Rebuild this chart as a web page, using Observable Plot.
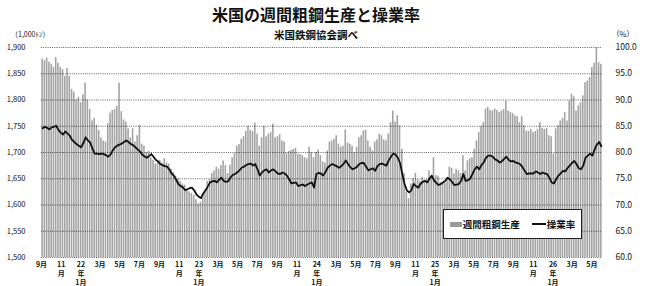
<!DOCTYPE html>
<html><head><meta charset="utf-8">
<script src="https://cdn.jsdelivr.net/npm/d3@7"></script>
<script src="https://cdn.jsdelivr.net/npm/@observablehq/plot@0.6"></script>
<style>
body{margin:0;background:#fff;}
#wrap{position:relative;width:648px;height:286px;font-family:"Noto Sans CJK JP",sans-serif;color:#111;}
#wrap svg{position:absolute;left:0;top:0;}
.t{position:absolute;white-space:nowrap;font-weight:bold;line-height:1;}
#title{left:0;width:632px;text-align:center;top:6px;height:17px;font-size:16px;}
#sub{left:0;width:632px;text-align:center;top:30px;height:11px;font-size:10.5px;}
#unitL{left:11px;top:31px;font-size:7px;font-weight:normal;}
#unitR{left:612px;top:30px;font-size:7.5px;font-weight:normal;}
#legend{position:absolute;left:443px;top:209px;width:139px;height:30px;background:#fff;border:1px solid #222;box-sizing:border-box;display:flex;align-items:center;justify-content:center;font-size:9.5px;font-weight:bold;gap:0;}
.sw{display:inline-block;width:12px;height:5px;background:#999;margin-right:1px;vertical-align:middle;}
.ln{display:inline-block;width:14px;height:2px;background:#111;margin-left:12px;margin-right:1px;vertical-align:middle;}
</style></head>
<body>
<div id="wrap">
<div class="t" id="title">米国の週間粗鋼生産と操業率</div>
<div class="t" id="sub">米国鉄鋼協会調べ</div>
<div class="t" id="unitL">（1,000ﾄﾝ）</div>
<div class="t" id="unitR">（%）</div>
</div>
<script>
// weekly crude steel production (1,000 tons), from week of 2009-09-01
const prod = [
1878,1875,1880,1872,1868,1862,1881,1870,1862,1858,
1845,1860,1845,1820,1815,1800,1805,1795,1810,1832,
1800,1782,1760,1765,1752,1742,1728,1722,1720,1755,
1775,1780,1782,1788,1832,1778,1762,1758,1745,1728,
1745,1720,1732,1752,1716,1712,1700,1702,1690,1685,
1678,1680,1685,1680,1688,1680,1678,1668,1662,1655,
1650,1645,1640,1638,1630,1625,1622,1618,1610,1602,
1605,1620,1628,1645,1648,1660,1665,1672,1668,1675,
1684,1675,1660,1676,1690,1698,1712,1715,1725,1730,
1740,1750,1742,1740,1756,1735,1712,1728,1750,1730,
1735,1738,1754,1728,1730,1734,1722,1720,1698,1702,
1704,1706,1708,1697,1696,1694,1690,1688,1710,1700,
1690,1700,1705,1694,1682,1680,1703,1720,1722,1725,
1732,1716,1710,1712,1743,1718,1716,1712,1700,1710,
1728,1732,1741,1742,1722,1710,1703,1720,1724,1735,
1732,1724,1722,1735,1757,1779,1758,1770,1751,1706,
1660,1625,1612,1640,1650,1660,1648,1645,1652,1646,
1648,1665,1652,1690,1656,1655,1643,1640,1642,1652,
1672,1670,1659,1668,1665,1660,1694,1665,1684,1688,
1690,1706,1722,1738,1750,1757,1783,1786,1780,1779,
1783,1780,1776,1779,1782,1798,1779,1776,1774,1770,
1768,1757,1768,1751,1741,1740,1744,1738,1740,1744,
1757,1746,1744,1746,1732,1730,1697,1745,1751,1760,
1765,1776,1760,1798,1811,1806,1779,1789,1795,1808,
1833,1836,1843,1862,1870,1899,1871,1868
];
// operating rate (%)
const rate = [
84.6,84.9,84.7,84.4,84.8,84.9,85.1,84.3,83.8,83.4,
84.0,83.6,83.2,82.4,82.0,81.6,81.3,81.0,81.8,82.9,
82.3,81.9,80.8,79.8,79.8,79.7,79.8,79.7,79.5,79.2,
79.6,80.4,81.0,81.3,81.5,81.7,82.0,82.3,82.0,81.6,
81.4,81.0,80.6,80.2,79.6,79.3,79.0,79.3,79.7,79.2,
78.6,78.3,77.8,77.6,77.4,77.3,76.8,76.0,75.6,74.8,
74.0,73.6,73.4,72.8,73.0,73.2,73.3,72.8,72.0,71.6,
71.3,72.2,72.8,73.5,74.3,74.5,74.6,74.3,74.8,75.2,
74.6,74.4,74.5,75.2,75.7,75.9,76.2,76.6,77.1,77.3,
77.6,77.8,77.9,77.5,77.8,76.8,75.6,76.2,76.6,76.8,
76.2,76.6,76.8,76.4,76.0,75.9,76.2,76.0,75.6,74.9,
74.1,74.2,74.3,73.6,73.8,73.9,73.6,73.9,74.1,74.3,
73.3,75.9,76.1,76.0,75.6,76.3,77.1,77.5,77.8,77.6,
77.4,77.1,77.4,77.8,78.5,77.8,77.2,76.8,77.0,77.3,
77.8,78.0,78.0,77.3,76.6,76.8,77.0,76.5,77.4,77.8,
77.9,77.7,77.5,78.5,79.2,79.8,79.6,79.0,78.0,75.9,
74.0,72.8,72.4,72.8,74.0,73.6,73.3,74.0,74.4,74.6,
74.3,75.0,75.6,74.7,74.2,73.8,74.0,74.3,74.6,75.2,
74.9,74.4,73.8,73.9,74.0,74.6,75.9,74.6,74.7,75.0,
75.9,76.8,77.3,76.8,77.6,78.1,79.0,79.4,79.4,79.2,
78.7,78.5,78.1,78.3,78.8,79.2,78.6,78.3,78.4,78.1,
78.0,77.8,77.3,76.6,75.9,76.0,76.0,76.0,76.4,76.2,
75.9,76.2,76.0,75.9,75.2,74.3,74.1,74.9,75.6,76.0,
76.5,76.4,77.0,77.5,78.0,78.4,77.8,77.0,76.8,77.5,
79.0,79.4,79.8,79.4,80.5,81.5,82.0,81.2
];
const xLabels = ["9月","11\n月","22\n年\n1月","3月","5月","7月","9月","11\n月","23\n年\n1月","3月","5月","7月","9月","11\n月","24\n年\n1月","3月","5月","7月","9月","11\n月","25\n年\n1月","3月","5月","7月","9月","11\n月","26\n年\n1月","3月","5月"];
const yTicks = [1500,1550,1600,1650,1700,1750,1800,1850,1900];
const legendLabels = ["週間粗鋼生産","操業率"];

const start = new Date(2009,8,1);
const end = new Date(2009,8,1+7*prod.length);
const weeks = prod.map((p,i)=>({
  start:new Date(2009,8,1+7*i), end:new Date(2009,8,8+7*i),
  mid:new Date(2009,8,1+7*i,84), prod:p, rate:rate[i]}));
const tickDates = d3.timeMonth.every(2).range(start, new Date(2014,5,1));
const labelMap = new Map(tickDates.map((d,i)=>[+d, xLabels[i]]));
const toLeft = r => 1500 + (r-60)*10;

const chart = Plot.plot({
  width:648, height:286, marginTop:47, marginBottom:29, marginLeft:41, marginRight:46,
  style:{fontFamily:"'Noto Sans CJK JP',sans-serif", background:"transparent", color:"#111"},
  x:{type:"time", domain:[start,end]},
  y:{domain:[1500,1900]},
  marks:[
    Plot.rectY(weeks,{x1:"start",x2:"end",y1:1500,y2:"prod",fill:"#a2a2a2",insetLeft:0.35,insetRight:0.35}),
    Plot.gridY(yTicks,{stroke:"#222",strokeOpacity:0.9,strokeDasharray:"1,1.2",strokeWidth:0.8}),
    Plot.lineY(weeks,{x:"mid",y:d=>toLeft(d.rate),stroke:"#111",strokeWidth:1.8}),
    Plot.axisY(yTicks,{anchor:"left",tickSize:0,tickPadding:16,tickFormat:d3.format(","),fontSize:7.5,label:null}),
    Plot.axisY(yTicks,{anchor:"right",tickSize:0,tickPadding:13,tickFormat:d=>((d-1500)/10+60).toFixed(1),fontSize:8.5,label:null}),
    Plot.axisX(tickDates,{anchor:"bottom",tickSize:0,tickPadding:3,tickFormat:d=>labelMap.get(+d),fontSize:7,lineHeight:1.3,fontWeight:"bold",label:null})
  ]
});
const wrap = document.getElementById("wrap");
wrap.insertBefore(chart, wrap.firstChild);
const lg = document.createElement("div");
lg.id = "legend";
lg.innerHTML = `<span class="sw"></span><span>${legendLabels[0]}</span><span class="ln"></span><span>${legendLabels[1]}</span>`;
wrap.appendChild(lg);
</script>
</body></html>
